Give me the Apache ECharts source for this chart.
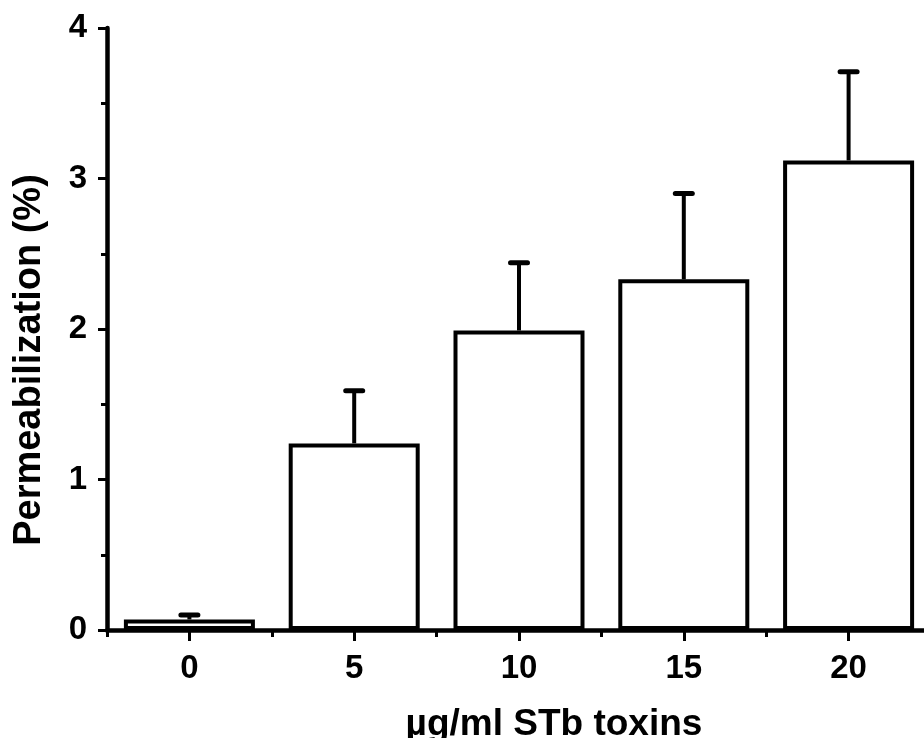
<!DOCTYPE html>
<html>
<head>
<meta charset="utf-8">
<script src="https://cdn.jsdelivr.net/npm/echarts@6/dist/echarts.min.js"></script>
<style>
  html, body { margin: 0; padding: 0; background: #fff; }
  #main { width: 924px; height: 738px; }
</style>
</head>
<body>
<div id="main"></div>
<script>
// doses (µg/ml) and measured permeabilization
var doses = ['0', '5', '10', '15', '20'];
var means = [0.07, 1.24, 1.99, 2.33, 3.12];
var errs = [0.03, 0.35, 0.45, 0.57, 0.59];

var FONT = '"Liberation Sans", Arial, sans-serif';

var chart = echarts.init(document.getElementById('main'));

var option = {
  backgroundColor: '#fff',
  animation: false,
  grid: { left: 107, top: 28, width: 824, height: 602, containLabel: false, outerBoundsMode: 'none' },
  xAxis: [
    {
      type: 'category',
      data: doses,
      boundaryGap: true,
      name: 'µg/ml STb toxins',
      nameLocation: 'middle',
      nameGap: 76,
      nameTextStyle: { color: '#000', fontFamily: FONT, fontWeight: 'bold', fontSize: 37, padding: [0, 0, 0, 70] },
      axisLine: { lineStyle: { color: '#000', width: 4.5 } },
      axisTick: { show: true, alignWithLabel: false, length: 7, lineStyle: { color: '#000', width: 3 } },
      axisLabel: { color: '#000', fontFamily: FONT, fontWeight: 'bold', fontSize: 33, margin: 22 },
      splitLine: { show: false }
    },
    {
      // second axis only for the longer ticks at the labels
      type: 'category',
      data: doses,
      position: 'bottom',
      boundaryGap: true,
      axisLine: { show: false },
      axisTick: { show: true, alignWithLabel: true, length: 11, lineStyle: { color: '#000', width: 3 } },
      axisLabel: { show: false },
      splitLine: { show: false }
    }
  ],
  yAxis: {
    type: 'value',
    min: 0,
    max: 4,
    interval: 1,
    name: 'Permeabilization (%)',
    nameLocation: 'middle',
    nameRotate: 90,
    nameGap: 58,
    nameTextStyle: { color: '#000', fontFamily: FONT, fontWeight: 'bold', fontSize: 38, padding: [0, 62, 0, 0] },
    axisLine: { show: true, lineStyle: { color: '#000', width: 4.5 } },
    axisTick: { show: true, length: 9, lineStyle: { color: '#000', width: 3 } },
    minorTick: { show: true, splitNumber: 2, length: 6, lineStyle: { color: '#000', width: 3 } },
    axisLabel: { color: '#000', fontFamily: FONT, fontWeight: 'bold', fontSize: 33, margin: 20 },
    splitLine: { show: false }
  },
  series: [
    {
      type: 'bar',
      data: means,
      barWidth: 131,
      itemStyle: { color: '#fff', borderColor: '#000', borderWidth: 4 },
      z: 2
    },
    {
      type: 'custom',
      z: 3,
      data: means.map(function (m, i) { return [i, m, m + errs[i]]; }),
      renderItem: function (params, api) {
        var base = api.coord([api.value(0), api.value(1)]);
        var top = api.coord([api.value(0), api.value(2)]);
        var capW = 17;
        return {
          type: 'group',
          children: [
            { type: 'line', shape: { x1: base[0], y1: base[1], x2: top[0], y2: top[1] },
              style: { stroke: '#000', lineWidth: 4 } },
            { type: 'line', shape: { x1: top[0] - capW / 2, y1: top[1], x2: top[0] + capW / 2, y2: top[1] },
              style: { stroke: '#000', lineWidth: 5, lineCap: 'round' } }
          ]
        };
      }
    }
  ]
};

chart.setOption(option);
</script>
</body>
</html>
